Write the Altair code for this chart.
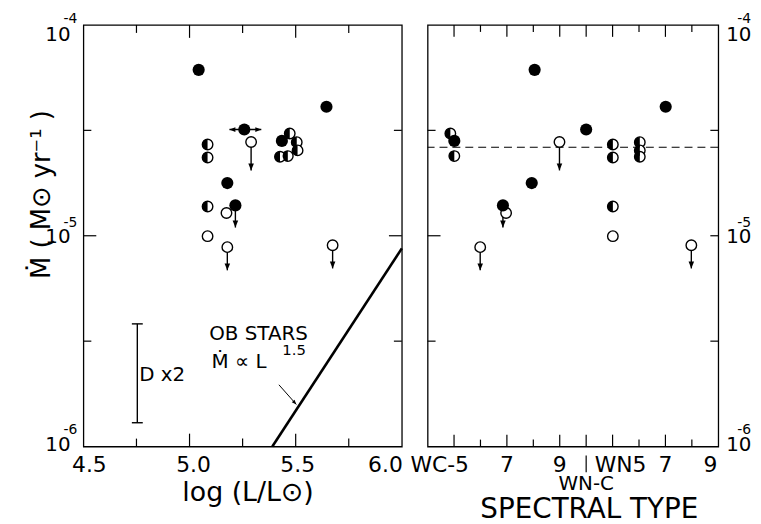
import altair as alt
import pandas as pd

# ---------------- values ----------------
log_L = [5.043, 5.645, 5.258, 5.290, 5.085, 5.085, 5.472, 5.435, 5.463,
         5.505, 5.509, 5.426, 5.178, 5.216, 5.174, 5.085, 5.085, 5.178, 5.674]
spec_pos = [4.05, 9.01, 6.00, 4.99, 7.01, 7.01, 0.86, 1.01, 1.01,
            8.03, 8.03, 8.03, 3.94, 2.85, 2.97, 7.01, 7.01, 1.99, 9.98]
log_Mdot = [-4.213, -4.388, -4.496, -4.555, -4.567, -4.629, -4.515, -4.550, -4.622,
            -4.556, -4.595, -4.625, -4.750, -4.856, -4.892, -4.861, -5.002, -5.054, -5.045]
symbol = ["filled", "filled", "filled", "open", "half", "half", "half", "filled", "half",
          "half", "half", "half", "filled", "filled", "open", "half", "open", "open", "open"]
upper_len = [0, 0, 0, 0.135, 0, 0, 0, 0, 0, 0, 0, 0, 0, 0.105, 0, 0, 0, 0.11, 0.11]

lum_err_lo = [5.188]
lum_err_hi = [5.338]
lum_err_logM = [-4.496]

ob_logL = [5.39, 6.0]
ob_logM = [-6.0, -5.06]

dist_logL = [4.754]
dist_logM_lo = [-5.887]
dist_logM_hi = [-5.418]

pointer_logL = [5.421, 5.503]
pointer_logM = [-5.707, -5.800]

mean_logM = [-4.58]

lum_ticks_major = [5.0, 5.5]
lum_ticks_minor = [4.75, 5.25, 5.75]
lum_label_values = [4.5, 5.0, 5.5, 6.0]
lum_labels = ["4.5", "5.0", "5.5", "6.0"]

spec_ticks_major = [1, 3, 5, 6, 7, 9]
spec_ticks_minor = [2, 4, 8, 10]
spec_label_values = [1, 3, 5, 7, 9, 11]
spec_labels = ["WC-5", "7", "9", "WN5", "7", "9"]
spec_divider = [6]

mdot_ticks_major = [-5.0]
mdot_ticks_minor = [-4.5, -5.5]
mdot_label_exps = [-4, -5, -6]

# ---------------- chart ----------------
FONT = "DejaVu Sans"
H, WL, WR = 425, 321, 293

HALF = "M0,-1 A1,1 0 0,0 0,1 Z"
DOWN = "M0,0 L-0.4,-1 L0.4,-1 Z"
LEFT = "M0,0 L1,-0.4 L1,0.4 Z"
RIGHT = "M0,0 L-1,-0.4 L-1,0.4 Z"
CAP = "M-1,0 L1,0"

ysc = alt.Scale(type="log", domain=[1e-6, 1e-4], nice=False)
xl = alt.Scale(domain=[4.5, 6.0], nice=False, zero=False)
xr = alt.Scale(domain=[0, 11], nice=False, zero=False)


def X(f, sc):
    return alt.X(f"{f}:Q", scale=sc, axis=None)


def Y(f):
    return alt.Y(f"{f}:Q", scale=ysc, axis=None)


stars = pd.DataFrame({"logL": log_L, "spec": spec_pos, "logM": log_Mdot,
                      "sym": symbol, "ul": upper_len})
stars["mdot"] = 10 ** stars["logM"]
stars["tip"] = 10 ** (stars["logM"] - stars["ul"])


def star_layers(xf, sc):
    x = X(xf, sc)
    y = Y("mdot")
    ul = stars[stars.ul > 0]
    return [
        alt.Chart(ul).mark_rule(color="black", strokeWidth=1.4).encode(x=x, y=y, y2=alt.Y2("tip:Q")),
        alt.Chart(ul).mark_point(shape=DOWN, size=196, filled=True, fill="black",
                                 strokeWidth=0, opacity=1).encode(x=x, y=Y("tip")),
        alt.Chart(stars[stars.sym != "filled"]).mark_point(
            shape="circle", size=112, filled=True, fill="white", stroke="black",
            strokeWidth=1.4, opacity=1).encode(x=x, y=y),
        alt.Chart(stars[stars.sym == "half"]).mark_point(
            shape=HALF, size=112, filled=True, fill="black", strokeWidth=0, opacity=1).encode(x=x, y=y),
        alt.Chart(stars[stars.sym == "filled"]).mark_point(
            shape="circle", size=150, filled=True, fill="black", strokeWidth=0, opacity=1).encode(x=x, y=y),
    ]


def xticks(vals, sc, length, W):
    d = pd.DataFrame({"v": vals})
    b = alt.Chart(d).mark_rule(color="black", strokeWidth=1.2)
    return [b.encode(x=X("v", sc), y=alt.value(H), y2=alt.value(H - length)),
            b.encode(x=X("v", sc), y=alt.value(0), y2=alt.value(length))]


def yticks(vals, length, W, left=True, right=True):
    d = pd.DataFrame({"v": [10 ** v for v in vals]})
    b = alt.Chart(d).mark_rule(color="black", strokeWidth=1.2)
    out = []
    if left:
        out.append(b.encode(y=Y("v"), x=alt.value(0), x2=alt.value(length)))
    if right:
        out.append(b.encode(y=Y("v"), x=alt.value(W), x2=alt.value(W - length)))
    return out


def text1(s, x, y, **kw):
    d = pd.DataFrame({"t": [s]})
    kw.setdefault("font", FONT)
    kw.setdefault("color", "black")
    return alt.Chart(d).mark_text(**kw).encode(x=x, y=y, text="t:N")


def ylabels(x_ten, x_sup, align_ten):
    out = []
    offs = {-4: (10, -2), -5: (1, -9), -6: (-2, -13)}
    for e in mdot_label_exps:
        dten, dsup = offs[e]
        out.append(text1("10", x_ten, alt.Y(datum=10.0 ** e, scale=ysc, axis=None),
                         fontSize=20, align=align_ten, baseline="middle", dy=dten))
        out.append(text1(str(e), x_sup, alt.Y(datum=10.0 ** e, scale=ysc, axis=None),
                         fontSize=14, align="left", baseline="alphabetic", dy=dsup))
    return out


# ---- left panel ----
ob = pd.DataFrame({"logL": ob_logL, "mdot": [10 ** v for v in ob_logM]})
dist = pd.DataFrame({"logL": dist_logL, "lo": [10 ** v for v in dist_logM_lo],
                     "hi": [10 ** v for v in dist_logM_hi]})
ptr = pd.DataFrame({"logL": pointer_logL, "mdot": [10 ** v for v in pointer_logM]})
lerr = pd.DataFrame({"lo": lum_err_lo, "hi": lum_err_hi, "mdot": [10 ** v for v in lum_err_logM]})

left_layers = [
    alt.Chart(ob).mark_line(color="black", strokeWidth=2.6).encode(x=X("logL", xl), y=Y("mdot")),
    alt.Chart(dist).mark_rule(color="black", strokeWidth=1.4).encode(
        x=X("logL", xl), y=Y("lo"), y2=alt.Y2("hi:Q")),
    alt.Chart(dist).mark_point(shape=CAP, size=121, stroke="black", strokeWidth=1.4, opacity=1).encode(
        x=X("logL", xl), y=Y("lo")),
    alt.Chart(dist).mark_point(shape=CAP, size=121, stroke="black", strokeWidth=1.4, opacity=1).encode(
        x=X("logL", xl), y=Y("hi")),
    alt.Chart(ptr).mark_line(color="black", strokeWidth=1).encode(x=X("logL", xl), y=Y("mdot")),
    alt.Chart(ptr.iloc[[1]]).mark_point(shape=DOWN, size=90, angle=318, filled=True, fill="black",
                                         strokeWidth=0, opacity=1).encode(x=X("logL", xl), y=Y("mdot")),
    alt.Chart(lerr).mark_rule(color="black", strokeWidth=1.4).encode(
        x=X("lo", xl), x2=alt.X2("hi:Q"), y=Y("mdot")),
    alt.Chart(lerr).mark_point(shape=LEFT, size=144, filled=True, fill="black", strokeWidth=0,
                               opacity=1).encode(x=X("lo", xl), y=Y("mdot")),
    alt.Chart(lerr).mark_point(shape=RIGHT, size=144, filled=True, fill="black", strokeWidth=0,
                               opacity=1).encode(x=X("hi", xl), y=Y("mdot")),
]
left_layers += star_layers("logL", xl)


def dl(v):
    return alt.X(datum=v, scale=xl, axis=None)


def dm(v):
    return alt.Y(datum=10 ** v, scale=ysc, axis=None)


left_layers += [
    text1("OB STARS", dl(5.325), dm(-5.494), fontSize=20, align="center", baseline="alphabetic"),
    text1("Ṁ ∝ L", dl(5.104), dm(-5.626), fontSize=20, align="left", baseline="alphabetic"),
    text1("1.5", dl(5.437), dm(-5.568), fontSize=15, align="left", baseline="alphabetic"),
    text1("D x2", dl(4.763), dm(-5.688), fontSize=20, align="left", baseline="alphabetic"),
]
left_layers += xticks(lum_ticks_major, xl, 13, WL) + xticks(lum_ticks_minor, xl, 8, WL)
left_layers += yticks(mdot_ticks_major, 13, WL) + yticks(mdot_ticks_minor, 8, WL)

lum_lab_style = {"4.5": ("center", 6), "5.0": ("center", 4), "5.5": ("center", 2), "6.0": ("right", 1)}
for v, s in zip(lum_label_values, lum_labels):
    a, dx = lum_lab_style[s]
    left_layers.append(text1(s, dl(v), alt.value(451), fontSize=22, align=a, dx=dx,
                             baseline="alphabetic"))
left_layers += ylabels(alt.value(-13), alt.value(-20), "right")
left_layers.append(text1("log  (L/L⊙)", alt.value(166), alt.value(480), fontSize=27,
                         align="center", baseline="alphabetic"))
left_layers.append(text1("Ṁ  ( M⊙  yr⁻¹ )", alt.value(-42), alt.value(171), fontSize=26,
                         align="center", baseline="middle", angle=270))
left_layers.append(alt.Chart(pd.DataFrame({"a": [0]})).mark_point(
    shape="square", size=1, filled=True, fill="white", opacity=0, strokeWidth=0).encode(
    x=alt.value(-74.7), y=alt.value(-13)))

left = alt.layer(*left_layers).properties(width=WL, height=H)

# ---- right panel ----
def ds(v):
    return alt.X(datum=v, scale=xr, axis=None)


right_layers = [
    alt.Chart(pd.DataFrame({"mdot": [10 ** v for v in mean_logM]})).mark_rule(
        color="black", strokeWidth=1.1, strokeDash=[8, 5]).encode(y=Y("mdot")),
]
right_layers += star_layers("spec", xr)
right_layers += xticks(spec_ticks_major, xr, 12, WR) + xticks(spec_ticks_minor, xr, 7, WR)
right_layers += yticks(mdot_ticks_major, 13, WR, right=False) + yticks(mdot_ticks_minor, 8, WR, right=False)
right_layers += yticks(mdot_ticks_major + mdot_ticks_minor, 8, WR, left=False)

spec_lab_style = {0: ("right", 15), 1: ("center", 0), 2: ("center", 0), 3: ("center", 8),
                  4: ("center", 0), 5: ("center", -8)}
for i, (v, s) in enumerate(zip(spec_label_values, spec_labels)):
    a, dx = spec_lab_style[i]
    right_layers.append(text1(s, ds(v), alt.value(451), fontSize=22, align=a, dx=dx,
                              baseline="alphabetic"))
right_layers.append(alt.Chart(pd.DataFrame({"v": spec_divider})).mark_rule(
    color="black", strokeWidth=1.2).encode(x=X("v", xr), y=alt.value(434), y2=alt.value(451)))
right_layers.append(text1("WN-C", ds(spec_divider[0]), alt.value(469), fontSize=20,
                          align="center", baseline="alphabetic"))
right_layers.append(text1("SPECTRAL TYPE", alt.value(163), alt.value(497), fontSize=28,
                          align="center", baseline="alphabetic"))
right_layers += ylabels(alt.value(WR + 8), alt.value(WR + 19), "left")

right = alt.layer(*right_layers).properties(width=WR, height=H)

chart = alt.hconcat(left, right, spacing=26, bounds="flush").properties(
    padding=0, background="white"
).configure_view(stroke="black", strokeWidth=1.3)

chart.save("out.html", embed_options={"renderer": "svg", "actions": False})
